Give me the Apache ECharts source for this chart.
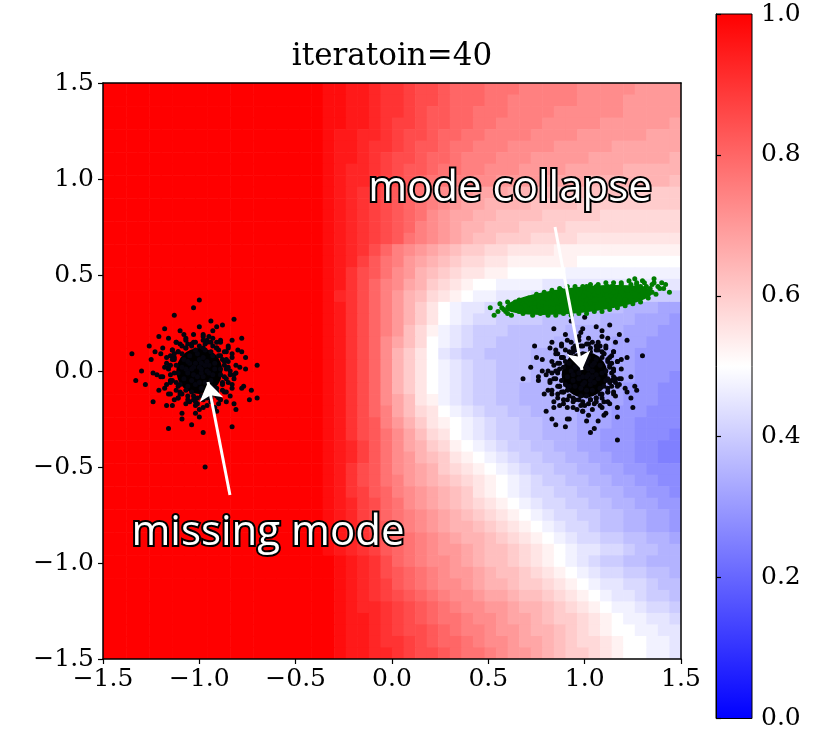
<!DOCTYPE html>
<html>
<head>
<meta charset="utf-8">
<title>iteratoin=40</title>
<script src="https://cdn.jsdelivr.net/npm/echarts/dist/echarts.min.js"></script>
<style>
  html, body { margin: 0; padding: 0; background: #fff; }
  #chart { width: 833px; height: 731px; }
</style>
</head>
<body>
<div id="chart"></div>
<script>
// cell centres of the 50 x 50 discriminator grid (same for x and y)
var cellCenters = [-1.47, -1.41, -1.35, -1.29, -1.23, -1.17, -1.11, -1.05, -0.99, -0.93,
  -0.87, -0.81, -0.75, -0.69, -0.63, -0.57, -0.51, -0.45, -0.39, -0.33,
  -0.27, -0.21, -0.15, -0.09, -0.03, 0.03, 0.09, 0.15, 0.21, 0.27,
  0.33, 0.39, 0.45, 0.51, 0.57, 0.63, 0.69, 0.75, 0.81, 0.87,
  0.93, 0.99, 1.05, 1.11, 1.17, 1.23, 1.29, 1.35, 1.41, 1.47];

// one char per cell, value = 0.125 + 0.025 * index in LEVELS (F = 0.5, Z = 1.0)
var LEVELS = '0123456789ABCDEFGHIJKLMNOPQRSTUVWXYZ';
// top row (y = 1.47) first
var fieldRows = [
  'ZZZZZZZZZZZZZZZZZZZYYXXWVVUTTSRRRQQQPPPPPOOOOONNNN',
  'ZZZZZZZZZZZZZZZZZZZYYXXWVVUTTSRRRQQPPPPPPOOOONNNNN',
  'ZZZZZZZZZZZZZZZZZZZYYXXWVVUTSSRRQQQPPPPOOOOOONNNNN',
  'ZZZZZZZZZZZZZZZZZZZYYXXWVUUTSSRRQQPPPPOOOOONNNNNNM',
  'ZZZZZZZZZZZZZZZZZZZYXXWWVUTTSRRQQPPPPOOOONNNNNNMMM',
  'ZZZZZZZZZZZZZZZZZZZYXXWVVUTSSRQQPPPOOOONNNNNMMMMMM',
  'ZZZZZZZZZZZZZZZZZZZYXXWVUTTSRRQPPPOOONNNNNMMMMMMML',
  'ZZZZZZZZZZZZZZZZZZZYXWWVUTSSRQQPPOOONNNNMMMMMLLLLL',
  'ZZZZZZZZZZZZZZZZZZZYXWWVUTSRQQPPOONNNNMMMMLLLLLLLK',
  'ZZZZZZZZZZZZZZZZZZZYXWVUTSRQPONNMMMLLLLKKKKKKJJJJJ',
  'ZZZZZZZZZZZZZZZZZZZYXWVUTSRQPONMMLLLLKKKKJJJJJJJJJ',
  'ZZZZZZZZZZZZZZZZZZZYXWVUTSRQONMMLLKKKKJJJJJIIIIIII',
  'ZZZZZZZZZZZZZZZZZZZYXWVUTSRPONMLLKKKJJJJIIIIIIIIII',
  'ZZZZZZZZZZZZZZZZZZZYXWVUTSQPONMLKKJJJIIIIHHHHHHHHH',
  'ZZZZZZZZZZZZZZZZZZZYXWVTRPONMLKJJIIHHHHGGGGGGGGGGG',
  'ZZZZZZZZZZZZZZZZZZZYXWUSQPNMLKJIIHHGGGGGGFFFFFFFFF',
  'ZZZZZZZZZZZZZZZZZZZYXVTSQONLKJIHHGGFFFFFEEEEEEEEEE',
  'ZZZZZZZZZZZZZZZZZZZYXVTRPOMLJIHGFFEEEEDDDDDDDDDDDD',
  'ZZZZZZZZZZZZZZZZZZZYWVTRPNLKIHGFEEDDDCCCCCCCCCCBBB',
  'ZZZZZZZZZZZZZZZZZZZYXVTRPNLJHFEDDCCCBBBBBBAAA99988',
  'ZZZZZZZZZZZZZZZZZZZYXVTRPNLJHFEDCCBBBBAAAAA9998887',
  'ZZZZZZZZZZZZZZZZZZZYXVTRPNKIGEDCBBBAAAAA9999988877',
  'ZZZZZZZZZZZZZZZZZZZYXVTROMKIFEDCBBAAAAA99999888777',
  'ZZZZZZZZZZZZZZZZZZZYXVTROLJHFDCBBAAAA9999998887777',
  'ZZZZZZZZZZZZZZZZZZZYXVTROLJHFEDCBBAAA9999998887777',
  'ZZZZZZZZZZZZZZZZZZZYXVTROLJHFEDCBBAAA9999998887776',
  'ZZZZZZZZZZZZZZZZZZZYXVTROLJHFEDCBBAA99999988877766',
  'ZZZZZZZZZZZZZZZZZZZYXVTROMKHGEDCBBAA99999888877766',
  'ZZZZZZZZZZZZZZZZZZZYXVTRPMKIHFEDCBBAA9999888777666',
  'ZZZZZZZZZZZZZZZZZZZYXVTSPNLJHGFEDCBBAA999888776666',
  'ZZZZZZZZZZZZZZZZZZZYXVTSQOMKIHFEDCBBAA999887776665',
  'ZZZZZZZZZZZZZZZZZZZYXWUSQOMLJIGFEDCBBAA99887776655',
  'ZZZZZZZZZZZZZZZZZZZYXWUSQONLKJHGFEDCBBAA9988776655',
  'ZZZZZZZZZZZZZZZZZZZYXVTSQONMLJIHGFEDCBBAA998877666',
  'ZZZZZZZZZZZZZZZZZZZYXVTSQPNMLKJIHGFEDCBBAA99887766',
  'ZZZZZZZZZZZZZZZZZZZYXVUSRPONMLKJHGFEDCCBBAA9988776',
  'ZZZZZZZZZZZZZZZZZZZYXWUTRQONMLKJIHGFEDCCBBAA998877',
  'ZZZZZZZZZZZZZZZZZZZYXWUTRQPONMLKJIHGFEDCCBBAA99887',
  'ZZZZZZZZZZZZZZZZZZZYXWVTSQPONMLLKJIHGFEDCCBAA99887',
  'ZZZZZZZZZZZZZZZZZZZYXWVUSRQPONMLLKJIHGFEDCCBBAA998',
  'ZZZZZZZZZZZZZZZZZZZYXWVUSRQPONNMLKKJIHGFEDDCCBAA99',
  'ZZZZZZZZZZZZZZZZZZZZYXWVTRQPOONMLKKJIHGFEDCBBAA999',
  'ZZZZZZZZZZZZZZZZZZZZYXWVTSRQPONNMLKKJIHGFEDCCBBAA9',
  'ZZZZZZZZZZZZZZZZZZZZYXWVUSRQPOONMLLKJJIHGFEDDCCBAA',
  'ZZZZZZZZZZZZZZZZZZZZYXWVUTSRQPOONMMLKKJIHGFEDDCBBA',
  'ZZZZZZZZZZZZZZZZZZZZYXWWVUTSRQPOONNMLLKJIHGFEEDCCB',
  'ZZZZZZZZZZZZZZZZZZZZYXXWVUTSRQQPOONMMLKJJIHGFEEDDC',
  'ZZZZZZZZZZZZZZZZZZZZYXXWVUTTSRQPPONNMLLKJIHGFFEEDD',
  'ZZZZZZZZZZZZZZZZZZZZYXXWVVUTSRRQPOONMMLKJIIHGFFEED',
  'ZZZZZZZZZZZZZZZZZZZZYXXWWVUTTSRQQPONNMLKJJIHGFFEED'
];

// real samples, mode at (-1, 0) -- the missing mode
var realLeft = [
  [-0.98,-0.03],[-1.05,0.04],[-0.92,0.01],[-1.12,-0.06],[-0.97,0.11],[-1.01,-0.14],[-0.85,0.05],[-1.09,0.09],
  [-0.94,-0.08],[-1.03,0.02],[-1.00,0.06],[-0.89,-0.02],[-1.07,-0.10],[-0.96,0.16],[-1.16,0.01],[-0.91,0.12],
  [-1.04,-0.05],[-0.99,-0.01],[-0.87,-0.11],[-1.10,0.14],[-0.95,0.03],[-1.02,-0.07],[-0.82,-0.04],[-1.13,-0.15],
  [-0.93,0.08],[-1.06,0.00],[-0.98,0.19],[-1.20,-0.03],[-0.90,-0.17],[-1.08,0.06],[-0.97,-0.12],[-1.01,0.09],
  [-0.86,0.10],[-1.11,-0.01],[-0.94,-0.05],[-1.04,0.13],[-0.79,0.02],[-1.15,0.08],[-1.00,-0.20],[-0.92,-0.09],
  [-1.03,-0.02],[-0.88,0.06],[-1.07,0.17],[-0.96,0.00],[-1.18,-0.09],[-0.84,-0.13],[-1.05,-0.16],[-0.99,0.04],
  [-0.91,0.15],[-1.12,0.03],[-0.95,-0.01],[-1.09,-0.12],[-0.77,-0.08],[-1.02,0.11],[-0.93,0.21],[-1.14,-0.18],
  [-0.89,0.01],[-1.06,0.05],[-0.97,-0.06],[-1.01,-0.03],[-0.83,0.09],[-1.19,0.12],[-1.00,0.02],[-0.94,0.10],
  [-1.08,-0.04],[-0.87,-0.03],[-1.04,-0.11],[-0.98,0.07],[-1.22,-0.02],[-0.90,-0.14],[-1.11,0.10],[-0.96,-0.18],
  [-1.03,0.15],[-0.81,-0.01],[-1.07,0.01],[-0.92,0.04],[-1.16,-0.12],[-0.99,-0.09],[-0.85,0.13],[-1.10,-0.07],
  [-0.95,0.18],[-1.02,-0.22],[-0.88,-0.06],[-1.13,0.06],[-0.93,-0.02],[-1.05,0.08],[-0.76,0.07],[-1.17,0.04],
  [-0.97,0.03],[-1.01,-0.17],[-0.91,-0.11],[-1.08,0.19],[-0.86,-0.16],[-1.06,-0.08],[-0.98,0.12],[-1.20,0.09],
  [-0.89,0.16],[-1.04,0.01],[-0.94,-0.13],[-1.09,0.02],[-1.00,-0.06],[-0.83,-0.09],[-1.12,0.15],[-0.96,0.05],
  [-1.03,-0.13],[-0.80,0.11],[-1.15,-0.05],[-0.92,-0.19],[-1.07,0.12],[-0.99,0.01],[-0.87,0.03],[-1.25,0.06],
  [-0.95,-0.10],[-1.02,0.04],[-0.90,0.08],[-1.11,-0.14],[-0.97,0.14],[-1.06,-0.01],[-0.84,0.00],[-1.14,0.11],
  [-0.73,-0.10],[-1.28,-0.07],[-0.94,0.26],[-1.04,-0.28],[-0.78,0.17],[-1.21,0.18],[-0.81,-0.20],[-1.24,-0.16],
  [-0.70,0.03],[-1.30,0.00],[-0.88,0.24],[-1.09,-0.25],[-0.74,-0.15],[-1.18,0.22],[-0.98,-0.32],[-1.26,0.13],
  [-0.97,-0.50],[-1.00,0.37],[-1.03,0.33],[-1.33,-0.05],[-1.35,0.09],[-0.70,-0.14],[-1.16,-0.30],[-0.83,-0.29],
  [-1.13,0.29],[-0.82,0.27],
  [-0.86,0.01],[-0.87,0.05],[-0.89,0.08],[-0.90,0.11],[-0.93,0.13],[-0.96,0.15],[-1.00,0.13],[-1.04,0.14],
  [-1.07,0.12],[-1.11,0.10],[-1.13,0.07],[-1.15,0.03],[-1.13,-0.01],[-1.14,-0.05],[-1.11,-0.08],[-1.10,-0.11],
  [-1.06,-0.13],[-1.03,-0.15],[-0.99,-0.13],[-0.96,-0.14],[-0.93,-0.12],[-0.91,-0.09],[-0.88,-0.07],[-0.86,-0.04],
  [-0.85,0.02],[-0.86,0.06],[-0.87,0.10],[-0.91,0.12],[-0.94,0.15],[-0.98,0.16],[-1.02,0.15],[-1.06,0.14],
  [-1.09,0.13],[-1.13,0.09],[-1.14,0.06],[-1.16,0.02],[-1.15,-0.02],[-1.15,-0.06],[-1.12,-0.10],[-1.10,-0.12],
  [-1.06,-0.15],[-1.02,-0.16],[-0.98,-0.15],[-0.94,-0.14],[-0.91,-0.13],[-0.88,-0.10],[-0.85,-0.06],[-0.84,-0.02],
  [-0.81,0.03],[-0.83,0.07],[-0.85,0.12],[-0.89,0.15],[-0.93,0.17],[-0.98,0.18],[-1.03,0.19],[-1.07,0.16],
  [-1.12,0.15],[-1.14,0.11],[-1.17,0.07],[-1.18,0.02],[-1.19,-0.03],[-1.17,-0.07],[-1.15,-0.12],[-1.11,-0.14],
  [-1.07,-0.17],[-1.02,-0.18],[-0.98,-0.19],[-0.94,-0.16],[-0.89,-0.15],[-0.86,-0.11],[-0.83,-0.07],[-0.82,-0.02],
  [-0.76,0.01],[-0.78,0.10],[-0.83,0.16],[-0.91,0.23],[-1.00,0.23],[-1.10,0.21],[-1.16,0.17],[-1.23,0.10],
  [-1.24,-0.01],[-1.21,-0.10],[-1.17,-0.18],[-1.09,-0.22],[-1.00,-0.24],[-0.91,-0.21],[-0.82,-0.17],[-0.78,-0.09]
];

// real samples, mode at (1, 0) -- covered by the generator
var realRight = [
  [0.97,-0.04],[1.04,0.03],[1.01,-0.10],[0.94,0.10],[1.11,-0.05],[0.86,-0.01],[1.05,-0.17],[1.09,0.07],
  [0.92,-0.08],[1.02,0.01],[1.06,-0.02],[0.98,-0.13],[0.90,0.05],[1.16,-0.06],[1.01,0.14],[1.12,-0.11],
  [0.95,0.02],[0.99,-0.03],[0.89,-0.15],[1.14,0.08],[1.03,-0.07],[0.93,0.00],[0.96,-0.20],[0.85,0.11],
  [1.08,-0.09],[1.00,0.04],[1.19,-0.04],[0.97,0.18],[0.83,-0.12],[1.06,0.06],[0.88,-0.05],[1.09,-0.01],
  [1.10,-0.16],[0.99,0.09],[0.95,-0.08],[1.13,0.02],[1.02,-0.23],[1.08,0.13],[0.80,-0.02],[0.91,-0.10],
  [0.98,0.01],[1.06,-0.14],[1.17,0.05],[1.00,-0.06],[0.91,0.16],[0.87,-0.18],[0.84,0.03],[1.04,-0.03],
  [1.15,-0.11],[1.03,0.10],[0.99,-0.07],[0.88,0.07],[0.92,-0.25],[1.11,0.00],[1.21,-0.09],[0.82,0.12],
  [1.01,-0.13],[1.05,0.04],[0.94,-0.05],[0.97,-0.01],[1.09,-0.19],[1.12,0.17],[1.02,-0.02],[1.10,-0.08],
  [0.96,0.06],[0.97,-0.15],[0.89,0.02],[1.07,-0.04],[0.98,0.20],[0.86,-0.12],[1.10,0.09],[0.82,-0.06],
  [1.15,0.01],[0.99,-0.21],[1.01,0.05],[1.04,-0.10],[0.88,0.14],[0.91,-0.03],[1.13,-0.17],[0.93,0.08],
  [1.18,-0.07],[0.78,0.00],[0.94,-0.14],[1.06,0.11],[0.98,-0.09],[1.08,0.03],[1.07,-0.26],[1.04,0.15],
  [1.03,-0.05],[0.83,-0.01],[0.89,-0.11],[1.19,0.06],[0.84,-0.16],[0.92,0.04],[1.12,-0.04],[1.09,0.18],
  [1.16,-0.13],[1.01,0.02],[0.87,-0.08],[1.02,0.07],[0.94,-0.02],[0.91,-0.19],[1.15,0.10],[1.05,-0.06],
  [0.87,0.01],[1.11,-0.22],[0.95,0.13],[0.81,-0.10],[1.12,0.05],[1.01,-0.03],[1.03,-0.15],[1.06,0.23],
  [0.90,-0.07],[1.04,0.00],[1.08,-0.12],[0.86,0.09],[1.14,-0.05],[0.99,0.04],[1.00,-0.18],[1.11,0.12],
  [0.90,-0.29],[0.93,0.26],[1.26,-0.08],[0.72,0.02],[1.17,-0.24],[1.18,0.19],[0.80,-0.21],[0.84,0.22],
  [1.03,-0.32],[1.00,0.28],[1.24,-0.14],[0.75,0.07],[0.85,-0.28],[1.22,0.16],[0.68,-0.04],[1.13,0.24],
  [1.17,-0.36],[1.30,0.08],[1.27,-0.10],[0.74,0.13],[0.76,-0.05],[1.25,-0.19],[0.83,-0.25],[1.05,-0.30],
  [1.14,-0.01],[1.13,0.03],[1.12,0.06],[1.10,0.09],[1.07,0.11],[1.03,0.12],[0.99,0.13],[0.95,0.11],
  [0.92,0.10],[0.89,0.07],[0.87,0.04],[0.86,0.00],[0.85,-0.04],[0.87,-0.08],[0.89,-0.11],[0.92,-0.13],
  [0.95,-0.15],[0.99,-0.16],[1.03,-0.15],[1.06,-0.14],[1.09,-0.12],[1.12,-0.09],[1.13,-0.06],[1.15,-0.03],
  [1.15,0.00],[1.14,0.04],[1.13,0.07],[1.09,0.10],[1.06,0.13],[1.02,0.14],[0.98,0.13],[0.94,0.12],
  [0.90,0.11],[0.88,0.07],[0.86,0.04],[0.85,0.00],[0.84,-0.04],[0.86,-0.08],[0.88,-0.11],[0.91,-0.15],
  [0.94,-0.16],[0.98,-0.18],[1.02,-0.17],[1.06,-0.16],[1.09,-0.14],[1.12,-0.11],[1.14,-0.08],[1.16,-0.04],
  [1.19,0.01],[1.17,0.05],[1.15,0.10],[1.11,0.13],[1.07,0.15],[1.02,0.17],[0.97,0.16],[0.93,0.15],
  [0.88,0.13],[0.85,0.09],[0.83,0.05],[0.81,0.00],[0.82,-0.05],[0.83,-0.10],[0.86,-0.14],[0.89,-0.17],
  [0.94,-0.19],[0.99,-0.21],[1.04,-0.20],[1.08,-0.18],[1.12,-0.16],[1.15,-0.12],[1.17,-0.08],[1.18,-0.04],
  [1.24,-0.03],[1.22,0.07],[1.16,0.15],[1.09,0.21],[0.99,0.22],[0.90,0.19],[0.83,0.15],[0.78,0.06],
  [0.76,-0.03],[0.79,-0.12],[0.84,-0.19],[0.91,-0.25],[1.01,-0.26],[1.10,-0.23],[1.17,-0.19],[1.22,-0.11]
];

// generated samples (collapsed onto one thin band)
var fakeGreen = [
  [0.98,0.38],[1.05,0.40],[0.90,0.36],[1.12,0.41],[0.84,0.35],[1.20,0.43],[0.76,0.34],[1.28,0.42],
  [0.70,0.33],[0.95,0.40],[1.02,0.35],[0.88,0.39],[1.15,0.38],[0.80,0.37],[1.24,0.45],[0.66,0.31],
  [1.32,0.44],[0.62,0.34],[1.08,0.43],[0.93,0.34],[1.00,0.41],[0.86,0.33],[1.18,0.39],[0.73,0.36],
  [1.36,0.46],[0.58,0.32],[1.10,0.37],[0.97,0.36],[0.82,0.40],[1.26,0.40],[0.68,0.35],[1.04,0.38],
  [0.91,0.42],[1.14,0.44],[0.78,0.32],[1.22,0.41],[0.99,0.33],[0.87,0.37],[1.06,0.36],[0.75,0.38],
  [1.30,0.47],[0.64,0.36],[1.17,0.42],[0.94,0.38],[1.01,0.44],[0.83,0.38],[1.13,0.39],[0.71,0.31],
  [1.34,0.43],[0.60,0.30],[1.09,0.40],[0.96,0.42],[0.89,0.35],[1.21,0.37],[0.77,0.35],[1.03,0.39],
  [0.85,0.41],[1.25,0.43],[0.67,0.33],[1.11,0.35],[0.92,0.37],[1.38,0.44],[0.55,0.31],[1.07,0.41],
  [0.81,0.34],[1.19,0.45],[0.72,0.37],[0.98,0.35],[1.29,0.44],[0.63,0.32],[1.16,0.40],[0.90,0.40],
  [1.04,0.42],[0.79,0.36],[1.23,0.39],[0.69,0.34],[0.95,0.36],[1.33,0.41],[0.86,0.36],[1.12,0.37],
  [0.74,0.33],[1.01,0.37],[1.27,0.46],[0.61,0.33],[0.93,0.39],[1.09,0.38],[0.84,0.39],[1.20,0.40],
  [0.57,0.33],[1.40,0.46],[0.76,0.37],[1.06,0.44],[0.88,0.34],[1.14,0.42],[0.99,0.39],[1.31,0.43],
  [0.65,0.34],[1.18,0.43],[0.80,0.35],[1.03,0.36],
  [0.51,0.33],[1.44,0.41],[1.36,0.48],[1.26,0.48],[0.53,0.29],[1.42,0.45],
  [0.97,0.40],[1.08,0.39],[0.85,0.37],[1.15,0.41],[0.92,0.36],[1.22,0.42],[0.78,0.36],[1.02,0.40],
  [0.89,0.38],[1.11,0.42],[0.94,0.41],[1.19,0.41],[0.82,0.36],[1.05,0.37],
  [0.60,0.36],[0.62,0.29],[0.66,0.37],[0.68,0.30],[0.71,0.38],[0.73,0.29],[0.75,0.40],[0.77,0.30],
  [0.79,0.41],[0.81,0.29],[0.83,0.42],[0.85,0.29],[0.87,0.43],[0.89,0.30],[0.91,0.44],[0.93,0.29],
  [0.95,0.44],[0.97,0.30],[0.99,0.44],[1.01,0.30],[1.03,0.45],[1.05,0.31],[1.07,0.45],[1.09,0.31],
  [1.11,0.46],[1.13,0.32],[1.15,0.46],[1.17,0.33],[1.19,0.46],[1.21,0.34],[1.23,0.47],[1.25,0.35],
  [1.27,0.45],[1.29,0.36],[1.31,0.46],[1.33,0.38],[1.35,0.45],[1.37,0.40],[1.39,0.43],[0.64,0.33],
  [0.72,0.35],[0.80,0.33],[0.88,0.42],[0.96,0.33],[1.04,0.33],[1.12,0.44],[1.20,0.35],[1.28,0.39],
  [0.56,0.35],[0.59,0.31],[1.41,0.43],[1.35,0.41],[0.74,0.31],[0.86,0.31],[1.00,0.43],[1.16,0.35],
  [1.24,0.37]
];

// centres of the dense parts: two black modes and the green band
var modeCentres = [[-1.0, 0.0], [1.0, -0.02]];
var bandCentre = [[0.97, 0.37]];

// annotation arrows, [from, to] in data units
var arrows = [
  [[0.846, 0.75], [0.986, 0.005]],
  [[-0.841, -0.646], [-0.955, -0.057]]
];

var bwr = ['#0000ff', '#ffffff', '#ff0000'];

function levelValue(ch) {
  return 0.125 + 0.025 * LEVELS.indexOf(ch);
}

var fieldData = [];
fieldRows.forEach(function (row, r) {
  if (row.length !== 50) throw new Error('field row ' + r + ' has ' + row.length + ' cells');
  var y = cellCenters[49 - r];
  for (var c = 0; c < row.length; c++) {
    fieldData.push([cellCenters[c], y, levelValue(row[c])]);
  }
});

function renderCell(params, api) {
  var x = api.value(0), y = api.value(1);
  var p0 = api.coord([x - 0.03, y + 0.03]);
  var p1 = api.coord([x + 0.03, y - 0.03]);
  return {
    type: 'rect',
    shape: { x: p0[0], y: p0[1], width: p1[0] - p0[0] + 0.6, height: p1[1] - p0[1] + 0.6 },
    style: { fill: api.visual('color') }
  };
}

function renderColorbar(params, api) {
  var p0 = api.coord([0, api.value(1)]);
  var p1 = api.coord([1, api.value(0)]);
  return {
    type: 'rect',
    shape: { x: p0[0], y: p0[1], width: p1[0] - p0[0], height: p1[1] - p0[1] },
    style: {
      fill: new echarts.graphic.LinearGradient(0, 1, 0, 0, [
        { offset: 0, color: bwr[0] },
        { offset: 0.5, color: bwr[1] },
        { offset: 1, color: bwr[2] }
      ]),
      stroke: '#000',
      lineWidth: 1
    }
  };
}

function signedLabel(v) {
  return (v < 0 ? '\u2212' : '') + Math.abs(v).toFixed(1);
}

var serif = 'DejaVu Serif';
var frameLine = { show: true, onZero: false, lineStyle: { color: '#000', width: 1.5 } };
var tickStyle = { show: true, inside: false, length: 5, lineStyle: { color: '#000', width: 1.2 } };
var labelStyle = { fontFamily: serif, fontSize: 25, color: '#000' };
var ellipse = 'path://M0,50 A50,50 0 1,1 100,50 A50,50 0 1,1 0,50 Z';

var calloutStyle = {
  fill: '#fff',
  stroke: '#000',
  lineWidth: 4,
  strokeFirst: true,
  font: '42px "Open Sans"',
  textAlign: 'center',
  textVerticalAlign: 'middle',
  verticalAlign: 'middle',
  shadowColor: 'rgba(0,0,0,0.55)',
  shadowBlur: 4,
  shadowOffsetX: 2,
  shadowOffsetY: 2
};

var chart = echarts.init(document.getElementById('chart'));
var option = {
  animation: false,
  backgroundColor: '#fff',
  grid: [
    { left: 103, top: 83, width: 578, height: 576 },
    { left: 716, top: 14, width: 36, height: 705 }
  ],
  xAxis: [
    {
      gridIndex: 0, type: 'value', min: -1.5, max: 1.5, interval: 0.5, position: 'bottom', z: 10,
      axisLine: frameLine, axisTick: tickStyle, splitLine: { show: false },
      axisLabel: Object.assign({ margin: 8, showMinLabel: true, showMaxLabel: true, formatter: signedLabel }, labelStyle)
    },
    {
      gridIndex: 0, type: 'value', min: -1.5, max: 1.5, position: 'top', z: 10,
      axisLine: frameLine, axisTick: { show: false }, axisLabel: { show: false }, splitLine: { show: false }
    },
    { gridIndex: 1, type: 'value', min: 0, max: 1, show: false }
  ],
  yAxis: [
    {
      gridIndex: 0, type: 'value', min: -1.5, max: 1.5, interval: 0.5, position: 'left', z: 10,
      axisLine: frameLine, axisTick: tickStyle, splitLine: { show: false },
      axisLabel: Object.assign({ margin: 9, showMinLabel: true, showMaxLabel: true, formatter: signedLabel }, labelStyle)
    },
    {
      gridIndex: 0, type: 'value', min: -1.5, max: 1.5, position: 'right', z: 10,
      axisLine: frameLine, axisTick: { show: false }, axisLabel: { show: false }, splitLine: { show: false }
    },
    {
      gridIndex: 1, type: 'value', min: 0, max: 1, interval: 0.2, position: 'right', z: 10,
      axisLine: { show: true, lineStyle: { color: '#000', width: 1 } },
      axisTick: tickStyle, splitLine: { show: false },
      axisLabel: Object.assign({ margin: 9, formatter: function (v) { return v.toFixed(1); } }, labelStyle)
    }
  ],
  visualMap: {
    type: 'continuous', show: false, min: 0, max: 1,
    seriesIndex: 0, dimension: 2, inRange: { color: bwr }
  },
  series: [
    {
      name: 'D(x)', type: 'custom', xAxisIndex: 0, yAxisIndex: 0, z: 1, clip: true,
      renderItem: renderCell, encode: { x: 0, y: 1 }, data: fieldData, silent: true
    },
    {
      name: 'colorbar', type: 'custom', xAxisIndex: 2, yAxisIndex: 2, z: 1,
      renderItem: renderColorbar, encode: { y: [0, 1] }, data: [[0, 1]], silent: true
    },
    {
      name: 'real core', type: 'scatter', xAxisIndex: 0, yAxisIndex: 0, z: 3,
      data: modeCentres, symbolSize: 46, itemStyle: { color: '#000', opacity: 1 }, silent: true
    },
    {
      name: 'real', type: 'scatter', xAxisIndex: 0, yAxisIndex: 0, z: 3,
      data: realLeft.concat(realRight), symbolSize: 5,
      itemStyle: { color: '#05050f', opacity: 1 }, silent: true
    },
    {
      name: 'generated core', type: 'scatter', xAxisIndex: 0, yAxisIndex: 0, z: 4,
      data: bandCentre, symbol: ellipse, symbolSize: [148, 26], symbolRotate: 6,
      itemStyle: { color: '#007d00', opacity: 1 }, silent: true
    },
    {
      name: 'generated', type: 'scatter', xAxisIndex: 0, yAxisIndex: 0, z: 4,
      data: fakeGreen, symbolSize: 5, itemStyle: { color: '#007d00', opacity: 1 }, silent: true
    },
    {
      name: 'arrows', type: 'lines', coordinateSystem: 'cartesian2d', xAxisIndex: 0, yAxisIndex: 0, z: 6,
      symbol: ['none', 'arrow'], symbolSize: [13, 18], silent: true,
      lineStyle: { color: '#fff', width: 3, opacity: 1 },
      data: arrows.map(function (a) { return { coords: a }; })
    }
  ],
  graphic: [
    {
      type: 'text', x: 392, y: 57, z: 100,
      style: { text: 'iteratoin=40', font: '31px "DejaVu Serif"', fill: '#000',
        textAlign: 'center', textVerticalAlign: 'middle', verticalAlign: 'middle' }
    },
    { type: 'text', x: 510, y: 189, z: 100, style: Object.assign({ text: 'mode collapse' }, calloutStyle) },
    { type: 'text', x: 268, y: 533, z: 100, style: Object.assign({ text: 'missing mode' }, calloutStyle) }
  ]
};
chart.setOption(option);
</script>
</body>
</html>
